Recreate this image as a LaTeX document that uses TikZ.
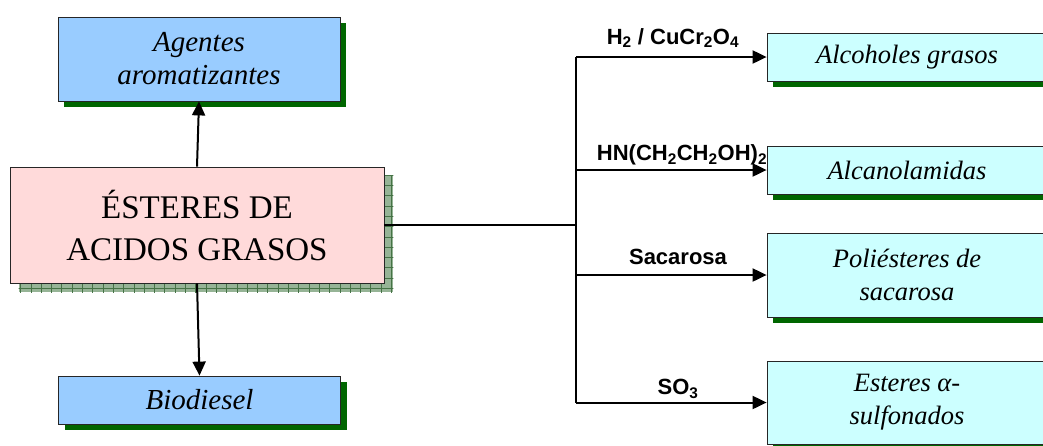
\documentclass[tikz,border=0pt]{standalone}
\usepackage{fontspec}
\setmainfont{Liberation Serif}
\newfontfamily\lsans{Liberation Sans}
\usetikzlibrary{arrows.meta,shadows,backgrounds}
\definecolor{bluefill}{RGB}{153,204,255}
\definecolor{cyanfill}{RGB}{204,255,255}
\definecolor{pinkfill}{RGB}{255,218,218}
\definecolor{shgreen}{RGB}{0,102,0}
\definecolor{hatchbg}{RGB}{150,180,150}
\definecolor{hatchline}{RGB}{70,115,70}
\begin{document}
\begin{tikzpicture}[x=1pt,y=-1pt,
  box/.style={draw=black!85, line width=0.8pt, inner sep=0pt, align=center,
    font=\fontsize{26.5}{33}\selectfont\itshape},
  gshadow/.style={drop shadow={fill=shgreen, opacity=1, shadow xshift=6pt, shadow yshift=-6pt}},
  bluebox/.style={box, fill=bluefill, gshadow, minimum width=282pt,
    font=\fontsize{29}{33}\selectfont\itshape},
  cyanbox/.style={box, fill=cyanfill, gshadow, minimum width=280pt},
  mainbox/.style={draw=black!85, line width=0.8pt, fill=pinkfill, align=center,
    minimum width=374pt, minimum height=116pt, inner sep=0pt,
    font=\fontsize{33}{42}\selectfont},
  arr/.style={line width=2pt, -{Triangle[length=14pt,width=13pt]}},
  conn/.style={line width=2pt},
  lbl/.style={font=\lsans\fontsize{22}{26}\selectfont\bfseries, inner sep=0pt}
]
\useasboundingbox (0,0) rectangle (1043,445);
\clip (0,0) rectangle (1043,445);

% left column
\node[bluebox, minimum height=84pt] (ag) at (199,59) {Agentes\\aromatizantes};
\node[mainbox] (main) at (197,225) {ÉSTERES DE\\ACIDOS GRASOS};
\node[bluebox, minimum height=48pt] (bio) at (199.5,400) {Biodiesel};

\begin{scope}[on background layer]
  \fill[hatchbg] ([shift={(9,9)}]main.north west) rectangle ([shift={(9,9)}]main.south east);
  \begin{scope}
    \clip ([shift={(9,9)}]main.north west) rectangle ([shift={(9,9)}]main.south east);
    \draw[hatchline, line width=0.8pt, step=10.3pt] (0,150) grid (420,300);
  \end{scope}
\end{scope}

\draw[arr] (main.north) -- (ag.south);
\draw[arr] (main.south) -- (bio.north);

% right column
\node[cyanbox, minimum height=48pt] (alc) at (907,57) {Alcoholes grasos};
\node[cyanbox, minimum height=48pt] (ala) at (907,170) {Alcanolamidas};
\node[cyanbox, minimum height=84pt] (pol) at (907,275) {Poliésteres de\\sacarosa};
\node[cyanbox, minimum height=83pt] (est) at (907,402.5) {Esteres α-\\sulfonados};

\coordinate (j) at (576,225);
\coordinate (jt) at (576,57);
\coordinate (jb) at (576,402.5);
\draw[conn] (main.east) -- (j);
\draw[conn] (jt) -- (jb);
\draw[arr] (jt) -- (alc.west);
\draw[arr] (jt |- ala.west) -- (ala.west);
\draw[arr] (jt |- pol.west) -- (pol.west);
\draw[arr] (jb) -- (est.west);

\node[lbl] (l1) at (673,38) {H\textsubscript{2} / CuCr\textsubscript{2}O\textsubscript{4}};
\node[lbl] (l2) at (682,155) {HN(CH\textsubscript{2}CH\textsubscript{2}OH)\textsubscript{2}};
\node[lbl] (l3) at (678,257) {Sacarosa};
\node[lbl] (l4) at (678,389) {SO\textsubscript{3}};
\end{tikzpicture}
\end{document}
